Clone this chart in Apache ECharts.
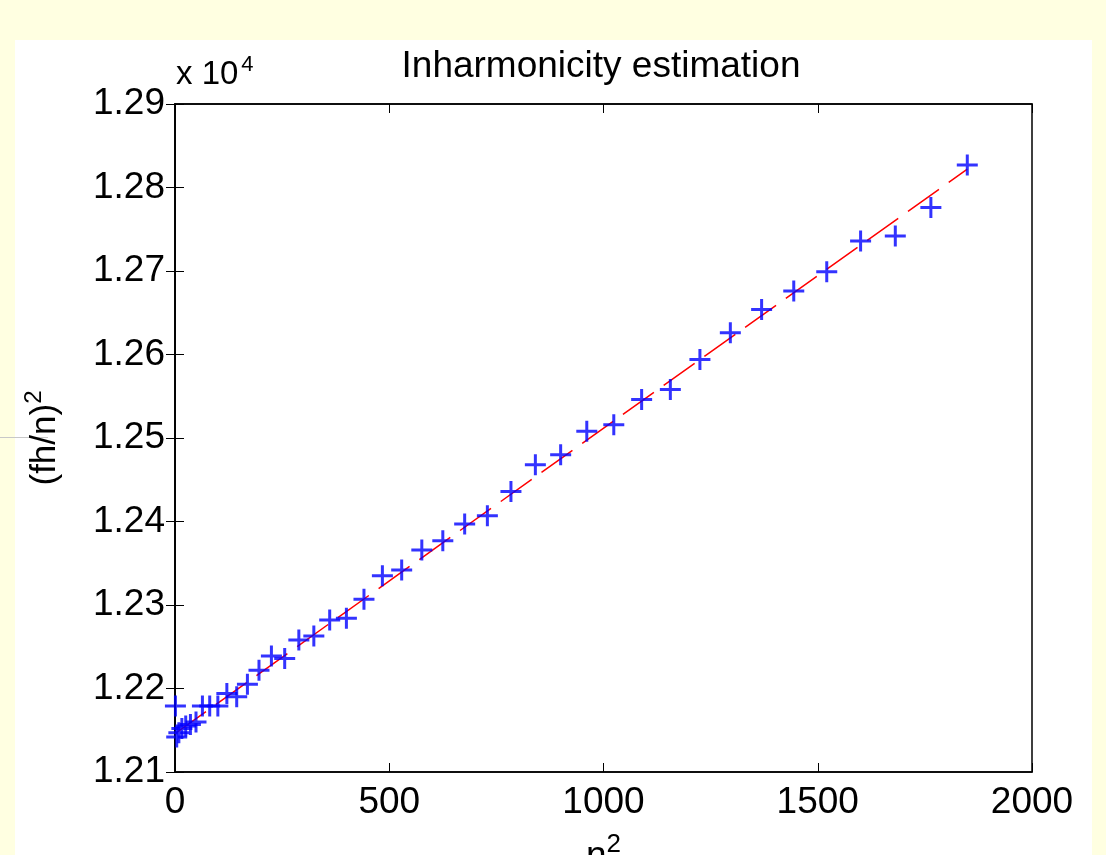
<!DOCTYPE html>
<html>
<head>
<meta charset="utf-8">
<script src="https://cdn.jsdelivr.net/npm/echarts@6/dist/echarts.min.js"></script>
<style>
  html, body { margin: 0; padding: 0; background: #FFFFE1; }
  #page { position: relative; width: 1106px; height: 855px; overflow: hidden; }
  #panel { position: absolute; left: 15px; top: 40px; width: 1077px; height: 815px; background: #fff; }
  #rule { position: absolute; left: 0; top: 437px; width: 48px; height: 1px; background: #c8c8c8; }
  #main { position: absolute; left: 0; top: 0; width: 1106px; height: 855px; }
</style>
</head>
<body>
<div id="page">
  <div id="panel"></div>
  <div id="rule"></div>
  <div id="main"></div>
</div>
<script>
// n^2 for n = 1..43
const nSquared = [1, 4, 9, 16, 25, 36, 49, 64, 81, 100, 121, 144, 169, 196, 225, 256, 289, 324, 361, 400,
  441, 484, 529, 576, 625, 676, 729, 784, 841, 900, 961, 1024, 1089, 1156, 1225, 1296, 1369, 1444, 1521,
  1600, 1681, 1764, 1849];
// (fh/n)^2
const fhn2 = [12179, 12142, 12147, 12152, 12155, 12157, 12160, 12179, 12179, 12179, 12194, 12190, 12205,
  12222, 12239, 12236, 12258, 12263, 12282, 12284, 12307, 12335, 12342, 12366, 12377, 12397, 12407, 12436,
  12468, 12480, 12508, 12516, 12546, 12558, 12594, 12626, 12654, 12676, 12699, 12736, 12742, 12776, 12827];
// fitted line end points
const fitX = [0, 1849];
const fitY = [12146, 12822];
const xTicks = [0, 500, 1000, 1500, 2000];
const yTicks = ['1.21', '1.22', '1.23', '1.24', '1.25', '1.26', '1.27', '1.28', '1.29'];

const font = 'Liberation Sans, Arial, sans-serif';
const plus = 'path://M9,0h3v9h9v3h-9v9h-3v-9h-9v-3h9z';

const tick = { show: true, inside: true, length: 9, lineStyle: { color: '#000', width: 1 } };
const line = { show: true, lineStyle: { color: '#000', width: 1.5 } };

const chart = echarts.init(document.getElementById('main'));
chart.setOption({
  animation: false,
  backgroundColor: 'transparent',
  textStyle: { fontFamily: font },
  title: {
    text: 'Inharmonicity estimation',
    left: 596,
    textAlign: 'center',
    top: 43,
    textStyle: { fontFamily: font, fontSize: 37, fontWeight: 'normal', color: '#000' }
  },
  graphic: [{
    type: 'text',
    left: 176,
    top: 54,
    style: {
      text: 'x 10{s|4}',
      fontFamily: font,
      fontSize: 33,
      fill: '#000',
      rich: { s: { fontSize: 22, verticalAlign: 'top', padding: [0, 0, 20, 3] } }
    }
  }],
  grid: {
    left: 175, right: 74, top: 104, bottom: 83,
    outerBoundsMode: 'none',
    show: true, backgroundColor: '#fff', borderColor: '#000', borderWidth: 1.5
  },
  xAxis: [{
    type: 'value', min: 0, max: 2000, interval: 500,
    axisLine: line, axisTick: tick, splitLine: { show: false },
    axisLabel: {
      margin: 12, fontSize: 37, color: '#000', fontFamily: font,
      formatter: v => String(xTicks[xTicks.indexOf(v)])
    },
    name: 'n{s|2}', nameLocation: 'middle', nameGap: 60,
    nameTextStyle: {
      fontSize: 37, color: '#000', fontFamily: font,
      rich: { s: { fontSize: 26, verticalAlign: 'top', padding: [0, 0, 24, 0] } }
    }
  }, {
    type: 'value', position: 'top', min: 0, max: 2000, interval: 500,
    axisLine: line, axisTick: tick, axisLabel: { show: false }, splitLine: { show: false }
  }],
  yAxis: [{
    type: 'value', min: 12100, max: 12900, interval: 100,
    axisLine: line, axisTick: tick, splitLine: { show: false },
    axisLabel: {
      margin: 10, fontSize: 37, color: '#000', fontFamily: font,
      formatter: v => yTicks[Math.round((v - 12100) / 100)]
    },
    name: '(fh/n){s|2}', nameLocation: 'middle', nameGap: 107,
    nameTextStyle: {
      fontSize: 35, color: '#000', fontFamily: font,
      rich: { s: { fontSize: 24, verticalAlign: 'top', padding: [0, 0, 22, 0] } }
    }
  }, {
    type: 'value', position: 'right', min: 12100, max: 12900, interval: 100,
    axisLine: line, axisTick: tick, axisLabel: { show: false }, splitLine: { show: false }
  }],
  series: [{
    type: 'line',
    data: fitX.map((x, i) => [x, fitY[i]]),
    showSymbol: false,
    lineStyle: { color: '#ff0000', width: 1.5, type: [38, 12] },
    z: 2
  }, {
    type: 'scatter',
    data: nSquared.map((x, i) => [x, fhn2[i]]),
    symbol: plus,
    symbolSize: 21,
    itemStyle: { color: '#0000ff' },
    z: 3
  }]
});
</script>
</body>
</html>
